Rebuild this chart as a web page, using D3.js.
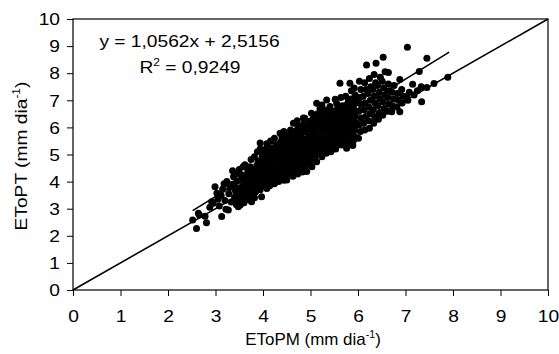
<!DOCTYPE html>
<html>
<head>
<meta charset="utf-8">
<script src="https://cdn.jsdelivr.net/npm/d3@7"></script>
<style>
  body { margin: 0; background: #fff; }
  svg { display: block; }
  text { font-family: "Liberation Sans", Arial, sans-serif; fill: #000; }
</style>
</head>
<body>
<svg id="chart" width="559" height="354"></svg>
<script>
// tick values on both axes
const xTicks = [0, 1, 2, 3, 4, 5, 6, 7, 8, 9, 10];
const yTicks = [0, 1, 2, 3, 4, 5, 6, 7, 8, 9, 10];

// daily pairs [EToPM, EToPT]
const etoPoints = [
  [2.52,2.58],[2.60,2.27],[2.64,2.83],[2.66,2.77],[2.81,2.48],[2.78,2.72],
  [2.92,3.26],[2.95,3.20],[2.88,3.05],
  [3.03,3.57],[2.99,3.81],[3.05,3.35],[3.13,2.71],[3.08,3.10],
  [3.12,3.48],[3.15,3.72],[3.18,3.92],[3.20,3.30],[3.22,2.98],
  [3.24,4.00],[3.27,2.95],[3.28,3.55],[3.30,3.78],[3.33,3.25],
  [3.38,4.18],[3.36,4.40],[3.36,3.90],[3.40,3.42],[3.42,3.65],[3.44,3.15],[3.47,4.30],
  [3.48,3.07],[3.52,3.14],[3.50,3.35],[3.53,3.58],[3.55,3.80],[3.52,4.05],[3.56,4.24],[3.50,4.45],
  [3.62,3.94],[3.60,3.22],[3.63,3.48],[3.65,3.70],[3.66,4.15],[3.68,4.40],[3.62,4.62],[3.58,4.55],
  [3.72,3.32],[3.74,3.55],[3.76,3.26],[3.73,3.82],[3.75,4.05],[3.77,4.30],[3.73,4.55],[3.75,4.82],
  [3.82,3.40],[3.84,3.62],[3.86,3.88],[3.83,4.12],[3.85,4.36],[3.87,4.60],[3.82,4.92],[3.88,5.10],
  [3.97,3.44],[3.94,3.70],[3.92,3.95],[3.96,4.18],[3.93,4.42],[3.95,4.68],[3.98,4.90],[3.94,5.20],[3.94,5.42],
  [4.08,3.75],[4.05,3.98],[4.03,4.22],[4.06,4.46],[4.02,4.70],[4.07,4.95],[4.04,5.18],[4.08,5.40],
  [4.14,3.85],[4.16,4.08],[4.13,4.32],[4.15,4.55],[4.12,4.80],[4.17,5.02],[4.14,5.26],[4.16,5.50],
  [4.24,3.92],[4.22,4.16],[4.25,4.40],[4.23,4.64],[4.26,4.88],[4.21,5.12],[4.27,5.36],[4.24,5.60],
  [4.33,4.00],[4.35,4.25],[4.32,4.50],[4.36,4.74],[4.34,4.98],[4.31,5.22],[4.37,5.46],[4.36,5.78],
  [4.44,4.05],[4.42,4.30],[4.45,4.55],[4.43,4.80],[4.46,5.05],[4.41,5.30],[4.47,5.55],[4.44,5.85],
  [4.50,4.06],[4.55,4.35],[4.53,4.60],[4.56,4.86],[4.52,5.10],[4.57,5.35],[4.54,5.60],[4.58,5.90],[4.64,6.15],
  [4.63,4.20],[4.65,4.45],[4.62,4.70],[4.66,4.95],[4.61,5.20],[4.67,5.45],[4.66,5.70],[4.72,6.25],
  [4.73,4.28],[4.75,4.55],[4.72,4.80],[4.76,5.05],[4.74,5.30],[4.71,5.55],[4.77,5.80],[4.74,6.02],
  [4.83,4.35],[4.85,4.62],[4.82,4.88],[4.86,5.12],[4.84,5.38],[4.81,5.62],[4.87,5.88],[4.85,6.12],[4.85,6.35],
  [4.92,4.37],[4.88,4.40],[4.95,4.70],[4.93,4.95],[4.96,5.20],[4.91,5.45],[4.97,5.70],[4.94,5.95],[4.88,6.34],[4.98,6.22],
  [5.03,4.55],[5.05,4.80],[5.02,5.05],[5.06,5.30],[5.04,5.55],[5.01,5.80],[5.07,6.05],[5.05,6.30],[5.02,6.52],
  [5.13,4.73],[5.15,5.00],[5.12,5.25],[5.16,5.50],[5.14,5.75],[5.11,6.00],[5.17,6.25],[5.15,6.50],[5.13,6.89],
  [5.24,4.92],[5.22,5.15],[5.25,5.40],[5.23,5.65],[5.26,5.90],[5.21,6.15],[5.27,6.40],[5.20,6.70],[5.24,6.83],
  [5.33,5.05],[5.35,5.30],[5.32,5.55],[5.36,5.80],[5.34,6.05],[5.31,6.30],[5.37,6.55],[5.34,7.01],[5.41,6.77],
  [5.43,5.10],[5.45,5.35],[5.42,5.60],[5.46,5.85],[5.44,6.10],[5.41,6.35],[5.47,6.60],
  [5.52,7.04],[5.53,5.20],[5.55,5.45],[5.52,5.70],[5.56,5.95],[5.54,6.20],[5.51,6.45],[5.57,6.70],[5.55,6.88],
  [5.62,5.54],[5.65,5.35],[5.62,5.80],[5.66,6.05],[5.64,6.30],[5.61,6.55],[5.67,6.80],[5.62,7.63],[5.64,7.10],
  [5.76,5.23],[5.75,5.60],[5.72,5.85],[5.76,6.10],[5.74,6.35],[5.71,6.60],[5.77,6.85],[5.74,7.15],
  [5.89,5.33],[5.83,7.63],[5.85,5.55],[5.82,5.80],[5.86,6.05],[5.84,6.30],[5.81,6.55],[5.87,6.80],[5.85,7.05],[5.86,7.35],
  [5.95,5.65],[5.93,5.90],[5.96,6.15],[5.94,6.40],[5.91,6.65],[5.97,6.90],[5.94,7.20],[5.92,7.45],
  [6.01,5.60],[6.05,5.85],[6.03,6.10],[6.06,6.35],[6.02,6.60],[6.07,6.85],[6.04,7.10],[6.06,7.40],[6.03,7.70],
  [6.14,5.90],[6.12,6.15],[6.16,6.40],[6.13,6.65],[6.15,6.90],[6.11,7.15],[6.17,7.40],[6.14,7.65],[6.18,8.30],
  [6.24,5.97],[6.22,6.25],[6.25,6.50],[6.23,6.75],[6.26,7.00],[6.21,7.25],[6.27,7.50],[6.24,7.80],
  [6.33,6.15],[6.35,6.40],[6.32,6.65],[6.36,6.90],[6.34,7.15],[6.31,7.40],[6.37,7.65],[6.38,8.37],[6.34,7.95],
  [6.43,6.30],[6.45,6.55],[6.42,6.80],[6.46,7.05],[6.44,7.30],[6.41,7.55],[6.47,7.85],
  [6.53,8.59],[6.52,6.45],[6.55,6.70],[6.53,6.95],[6.56,7.20],[6.54,7.45],[6.51,7.70],[6.57,8.05],
  [6.64,8.03],[6.62,6.60],[6.65,6.85],[6.63,7.10],[6.66,7.35],[6.64,7.60],
  [6.71,6.58],[6.73,6.80],[6.75,7.05],[6.72,7.30],[6.76,7.55],
  [6.82,6.75],[6.85,7.00],[6.83,7.25],[6.88,7.77],[6.88,6.58],
  [6.93,6.90],[6.95,7.15],[6.92,7.40],
  [7.02,7.13],[7.04,8.96],[7.05,7.00],[7.08,7.30],
  [7.15,7.59],[7.18,7.20],[7.29,8.06],[7.33,7.50],[7.34,6.95],[7.25,7.35],
  [7.45,7.47],[7.45,8.55],[7.60,7.62],[7.89,7.85]
];

// the crowded middle of the cloud, where the dots merge into one dark band
const etoPointsCore = [
  [3.45,3.28],[3.46,3.52],[3.44,3.78],[3.45,4.02],
  [3.58,3.38],[3.57,3.62],[3.59,3.86],[3.58,4.10],
  [3.68,3.40],[3.69,3.60],[3.67,3.82],[3.68,4.05],[3.69,4.28],
  [3.78,3.68],[3.79,3.93],[3.78,4.18],[3.80,4.43],
  [3.89,3.76],[3.90,4.00],[3.88,4.24],[3.89,4.48],[3.90,4.75],
  [3.99,3.83],[4.00,4.08],[3.99,4.32],[4.00,4.56],[3.99,4.80],[4.00,5.05],
  [4.10,3.88],[4.10,4.10],[4.09,4.35],[4.10,4.58],[4.11,4.85],[4.10,5.12],
  [4.19,4.00],[4.20,4.24],[4.19,4.50],[4.18,4.74],[4.20,4.98],[4.19,5.22],
  [4.29,4.10],[4.28,4.34],[4.29,4.60],[4.30,4.85],[4.28,5.10],[4.29,5.34],
  [4.39,4.16],[4.38,4.42],[4.39,4.66],[4.40,4.90],[4.38,5.15],[4.39,5.40],[4.40,5.62],
  [4.49,4.20],[4.48,4.46],[4.49,4.72],[4.50,4.96],[4.48,5.22],[4.49,5.46],[4.50,5.72],
  [4.59,4.30],[4.58,4.56],[4.59,4.80],[4.60,5.05],[4.58,5.30],[4.59,5.55],[4.60,5.80],
  [4.69,4.38],[4.68,4.62],[4.69,4.88],[4.70,5.12],[4.68,5.36],[4.69,5.62],[4.70,5.88],
  [4.79,4.46],[4.78,4.72],[4.79,4.96],[4.80,5.22],[4.78,5.48],[4.79,5.72],[4.80,5.98],
  [4.89,4.55],[4.88,4.82],[4.89,5.06],[4.90,5.32],[4.88,5.56],[4.89,5.82],[4.90,6.06],
  [4.99,4.65],[4.98,4.92],[4.99,5.16],[5.00,5.42],[4.98,5.66],[4.99,5.92],[5.00,6.16],
  [5.09,4.85],[5.08,5.10],[5.09,5.36],[5.10,5.62],[5.08,5.88],[5.09,6.12],[5.10,6.38],
  [5.19,5.02],[5.18,5.28],[5.19,5.52],[5.20,5.78],[5.18,6.02],[5.19,6.28],[5.20,6.55],
  [5.29,5.12],[5.28,5.38],[5.29,5.62],[5.30,5.88],[5.28,6.12],[5.29,6.38],[5.30,6.64],
  [5.39,5.20],[5.38,5.46],[5.39,5.72],[5.40,5.96],[5.38,6.22],[5.39,6.46],
  [5.49,5.28],[5.48,5.55],[5.49,5.80],[5.50,6.05],[5.48,6.30],[5.49,6.55],
  [5.59,5.42],[5.58,5.68],[5.59,5.92],[5.60,6.18],[5.58,6.42],[5.59,6.68],
  [5.69,5.48],[5.68,5.72],[5.69,5.98],[5.70,6.22],[5.68,6.48],[5.69,6.72],
  [5.79,5.42],[5.78,5.70],[5.79,5.95],[5.80,6.22],[5.78,6.48],[5.79,6.72],[5.80,6.98],
  [5.90,5.50],[5.89,5.78],[5.90,6.02],[5.91,6.28],[5.89,6.52],[5.90,6.78],[5.91,7.02]
];

// 1:1 line and fitted trend line ends
const identityLine = [[0, 0], [10, 10]];
const trendLine = [[2.52, 2.93], [7.92, 8.78]];

const equationLabel = 'y = 1,0562x + 2,5156';
const r2Label = '0,9249';

const svg = d3.select('#chart');
const x = d3.scaleLinear().domain([0, 10]).range([73, 548]);
const y = d3.scaleLinear().domain([0, 10]).range([290, 19]);

// x axis
const xAxis = svg.append('g')
  .attr('transform', `translate(0,${y(0)})`)
  .call(d3.axisBottom(x).tickValues(xTicks).tickSize(6).tickSizeOuter(0).tickFormat(d3.format('d')));
xAxis.select('.domain').remove();
xAxis.selectAll('.tick line').attr('stroke', '#000');
xAxis.selectAll('.tick text')
  .attr('y', 0).attr('dy', 0)
  .attr('transform', 'translate(0,31.5) scale(1.2,1)')
  .style('font-size', '16px')
  .style('font-family', '"Liberation Sans", Arial, sans-serif');

// y axis
const yAxis = svg.append('g')
  .attr('transform', `translate(${x(0)},0)`)
  .call(d3.axisLeft(y).tickValues(yTicks).tickSize(6).tickSizeOuter(0).tickFormat(d3.format('d')));
yAxis.select('.domain').remove();
yAxis.selectAll('.tick line').attr('stroke', '#000');
yAxis.selectAll('.tick text')
  .attr('x', 0).attr('dy', '0.36em')
  .attr('transform', 'translate(-13,0) scale(1.2,1)')
  .style('font-size', '16px')
  .style('font-family', '"Liberation Sans", Arial, sans-serif');

// plot frame
svg.append('rect')
  .attr('x', x(0)).attr('y', y(10))
  .attr('width', x(10) - x(0)).attr('height', y(0) - y(10))
  .attr('fill', 'none').attr('stroke', '#000').attr('stroke-width', 1.2);

// points
svg.append('g')
  .selectAll('circle')
  .data(etoPoints.concat(etoPointsCore))
  .join('circle')
  .attr('cx', d => x(d[0]))
  .attr('cy', d => y(d[1]))
  .attr('r', 3.5)
  .attr('fill', '#000');

const line = d3.line().x(d => x(d[0])).y(d => y(d[1]));

svg.append('path').datum(identityLine)
  .attr('d', line).attr('fill', 'none').attr('stroke', '#000').attr('stroke-width', 1.6);
svg.append('path').datum(trendLine)
  .attr('d', line).attr('fill', 'none').attr('stroke', '#000').attr('stroke-width', 1.6);

// equation and R²
svg.append('text')
  .attr('transform', 'translate(189.5,46.7) scale(1.2,1)')
  .attr('text-anchor', 'middle')
  .style('font-size', '16px')
  .text(equationLabel);

const r2 = svg.append('text')
  .attr('transform', 'translate(190,72.7) scale(1.2,1)')
  .attr('text-anchor', 'middle')
  .style('font-size', '16px');
r2.append('tspan').text('R');
r2.append('tspan').attr('dy', -7).style('font-size', '10px').text('2');
r2.append('tspan').attr('dy', 7).text(' = ' + r2Label);

// axis titles
function unitTitle(sel, name) {
  sel.append('tspan').text(name + ' (mm dia');
  sel.append('tspan').attr('dy', -7).style('font-size', '10px').text('-1');
  sel.append('tspan').attr('dy', 7).text(')');
}

const xTitle = svg.append('text')
  .attr('transform', 'translate(313,345) scale(1.06,1)')
  .attr('text-anchor', 'middle')
  .style('font-size', '16px');
unitTitle(xTitle, 'EToPM');

const yTitle = svg.append('text')
  .attr('transform', 'translate(26.5,156) rotate(-90) scale(1.2,1)')
  .attr('text-anchor', 'middle')
  .style('font-size', '16px');
unitTitle(yTitle, 'EToPT');
</script>
</body>
</html>
